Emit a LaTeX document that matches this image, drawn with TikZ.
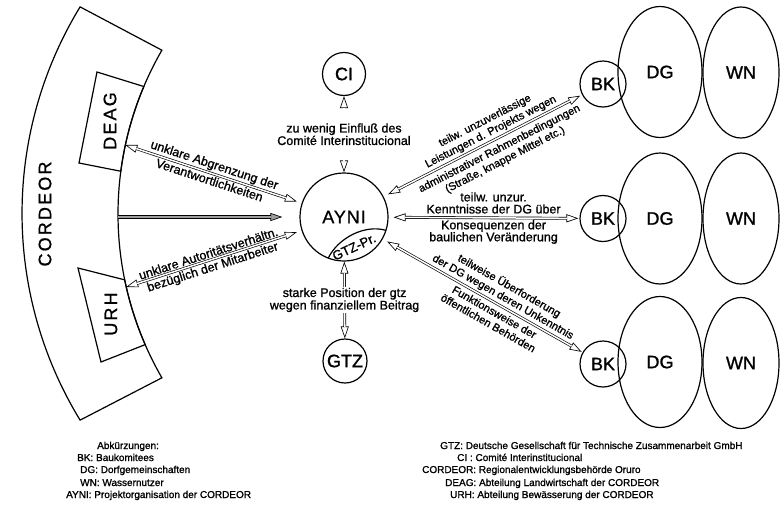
\documentclass[tikz,border=0pt]{standalone}
\usepackage{fontspec}
\setmainfont{Liberation Sans}[FakeBold=1.2]
\newfontfamily\spacedfont{Liberation Sans}[LetterSpace=12,FakeBold=0.8]
\newfontfamily\slightfont{Liberation Sans}[LetterSpace=5,FakeBold=0.8]
\usetikzlibrary{arrows.meta,calc,shapes.geometric}
\begin{document}
\begin{tikzpicture}[x=1pt,y=-1pt,
  shapeline/.style={line width=1.2pt},
  namefont/.style={font=\fontsize{18}{20}\selectfont},
  circnode/.style={circle, draw, line width=1.2pt, inner sep=0pt, namefont},
  ellnode/.style={ellipse, draw, line width=1.2pt, inner sep=0pt, namefont, minimum height=131pt},
  dbl/.style={double, double distance=1.5pt, line width=0.65pt},
  tipl/.style={line width=0.65pt, {Triangle[open,length=12pt,width=8pt]}-{Triangle[open,length=12pt,width=8pt]}},
  tipr/.style={line width=0.65pt, -{Triangle[length=12pt,width=8pt,fill=gray!75]}},
  lab/.style={font=\fontsize{12.5}{12.5}\selectfont, align=center, inner sep=1pt},
  labsmall/.style={font=\fontsize{11}{12.5}\selectfont, align=center, inner sep=1pt},
  legend/.style={font=\fontsize{10}{12}\selectfont, anchor=base west, inner sep=0pt}
]
\useasboundingbox (0,0) rectangle (780,504);

% CORDEOR band
\coordinate (arcI) at (445.6,214);
\coordinate (arcO) at (418.6,213.5);
\draw[shapeline] ($(arcI)+(150:327.6)$) arc[start angle=150,end angle=210,radius=327.6]
  -- ($(arcO)+(211.4:396.6)$) arc[start angle=211.4,end angle=148.6,radius=396.6] -- cycle;
% DEAG box
\draw[shapeline] (97,72) -- ($(arcI)+(202.9:327.6)$) arc[start angle=202.9,end angle=187.5,radius=327.6] -- (79,163) -- cycle;
% URH box
\draw[shapeline] (78,268) -- ($(arcI)+(168.4:327.6)$) arc[start angle=168.4,end angle=156.5,radius=327.6] -- (101,362) -- cycle;

\node[namefont, rotate=90] (cordeor) at (45,214) {\spacedfont CORDEOR};
\node[namefont, rotate=90] (deag) at (110,121) {\spacedfont DEAG};
\node[namefont, rotate=90] (urh) at (111,314) {\spacedfont URH};

% central nodes
\node[circnode, minimum size=88pt] (ayni) at (344,217) {\slightfont AYNI};
\node[circnode, minimum size=43pt] (ci) at (344,74) {CI};
\node[circnode, minimum size=44pt] (gtz) at (345,361) {GTZ};

\draw[shapeline] ($(ayni.center)+(111:44)$) .. controls (338,238) and (365,224) .. ($(ayni.center)+(17.7:44)$);
\node[font=\fontsize{13}{14}\selectfont, rotate=25, inner sep=0pt] (gtzpr) at (354,247) {GTZ-Pr.};

% right side
\node[circnode, minimum size=46pt] (bk1) at (603,84) {BK};
\node[circnode, minimum size=46pt] (bk2) at (603,218.5) {BK};
\node[circnode, minimum size=46pt] (bk3) at (603,364) {BK};
\node[ellnode, minimum width=84pt] (dg1) at (660,72) {DG};
\node[ellnode, minimum width=84pt] (dg2) at (660,218.5) {DG};
\node[ellnode, minimum width=84pt] (dg3) at (660,362) {DG};
\node[ellnode, minimum width=76pt] (wn1) at (741,72.5) {WN};
\node[ellnode, minimum width=76pt] (wn2) at (741,218.5) {WN};
\node[ellnode, minimum width=76pt] (wn3) at (741,363) {WN};

% connectors: CI, GTZ
\draw[tipl] (ci) -- (ayni);
\draw[dbl, shorten <=11.5pt, shorten >=11.5pt] (ci) -- (ayni)
  node[midway, lab, fill=white, inner xsep=3pt, inner ysep=1pt] (lci) {zu wenig Einfluß des\\Comité Interinstitucional};
\draw[tipl] (ayni) -- (gtz);
\draw[dbl, shorten <=11.5pt, shorten >=11.5pt] (ayni) -- (gtz)
  node[midway, lab, fill=white, inner xsep=3pt, inner ysep=1pt] (lgtz) {starke Position der gtz\\wegen finanziellem Beitrag};

% left side
\coordinate (deagend) at (125.3,145);
\coordinate (urhend) at (126.2,287);
\coordinate (cordend) at (118,217);
\draw[tipl, shorten >=5pt] (deagend) -- (ayni);
\draw[dbl, shorten <=11.5pt, shorten >=16.5pt] (deagend) -- (ayni)
  node[pos=0.49, sloped, above=1pt, lab] (l1) {unklare Abgrenzung der}
  node[pos=0.49, sloped, below=1pt, lab] (l2) {Verantwortlichkeiten};
\draw[tipl, shorten >=5pt] (urhend) -- (ayni);
\draw[dbl, shorten <=11.5pt, shorten >=16.5pt] (urhend) -- (ayni)
  node[pos=0.48, sloped, above=1pt, lab] (l3) {unklare Autoritätsverhältn.}
  node[pos=0.48, sloped, below=1pt, lab] (l4) {bezüglich der Mitarbeiter};
\draw[tipr, shorten >=17pt] (cordend) -- (cordend -| ayni.west);
\draw[dbl, double=gray!75, double distance=1.8pt, shorten >=28.5pt] (cordend) -- (cordend -| ayni.west);

% right connectors
\draw[tipl, shorten <=5pt, shorten >=2pt] (ayni) -- (bk1);
\draw[dbl, shorten <=16.5pt, shorten >=13.5pt] (ayni) -- (bk1)
  node[pos=0.56, sloped, above=2pt, labsmall] (l5) {teilw. unzuverlässige\\Leistungen d. Projekts wegen}
  node[pos=0.56, sloped, below=4pt, labsmall] (l6) {administrativer Rahmenbedingungen\\(Straße, knappe Mittel etc.)};
\draw[tipl, shorten <=5pt, shorten >=1pt] (ayni) -- (bk2);
\draw[dbl, shorten <=16.5pt, shorten >=12.5pt] (ayni) -- (bk2)
  node[pos=0.55, above=3pt, lab, font=\fontsize{12.5}{12}\selectfont] (l7) {teilw. unzur.\\Kenntnisse der DG über}
  node[pos=0.55, below=1pt, lab, font=\fontsize{12.5}{12}\selectfont] (l8) {Konsequenzen der\\baulichen Veränderung};
\draw[tipl, shorten <=5pt, shorten >=1pt] (ayni) -- (bk3);
\draw[dbl, shorten <=16.5pt, shorten >=12.5pt] (ayni) -- (bk3)
  node[pos=0.58, sloped, above=2pt, labsmall] (l9) {teilweise Überforderung\\der DG wegen deren Unkenntnis}
  node[pos=0.58, sloped, below=3pt, labsmall] (l10) {Funktionsweise der\\öffentlichen Behörden};

% legends
\node[legend] (ab) at (97,449) {Abkürzungen:};
\node[legend] (lbk) at (77,461) {BK: Baukomitees};
\node[legend] (ldg) at (80,473) {DG: Dorfgemeinschaften};
\node[legend] (lwn) at (80,486) {WN: Wassernutzer};
\node[legend] (lay) at (66,498) {AYNI: Projektorganisation der CORDEOR};

\node[legend] (lg1) at (440,449) {GTZ: Deutsche Gesellschaft für Technische Zusammenarbeit GmbH};
\node[legend] (lg2) at (457,461) {CI : Comité Interinstitucional};
\node[legend] (lg3) at (422,473) {CORDEOR: Regionalentwicklungsbehörde Oruro};
\node[legend] (lg4) at (445,486) {DEAG: Abteilung Landwirtschaft der CORDEOR};
\node[legend] (lg5) at (450,498) {URH: Abteilung Bewässerung der CORDEOR};
\end{tikzpicture}
\end{document}
